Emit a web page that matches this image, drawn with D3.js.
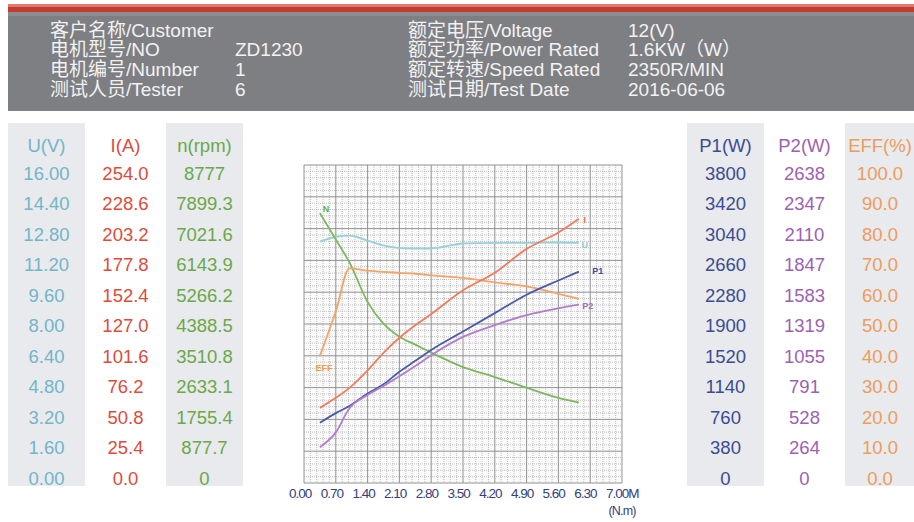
<!DOCTYPE html>
<html>
  <head>
    <meta charset="utf-8">
    <title>Motor test curve</title>
    <style>
      html, body { margin: 0; padding: 0; background: #fff; }
      svg { display: block; font-family: "Liberation Sans", Arial, "Noto Sans CJK SC", sans-serif; }
    </style>
  </head>
  <body>
    <svg class="chart"></svg>
    <script src="https://cdn.jsdelivr.net/npm/d3@7/dist/d3.min.js"></script>
    <script>

// header texts
var headLeftLabels = ["客户名称/Customer", "电机型号/NO", "电机编号/Number", "测试人员/Tester"]
var headLeftValues = ["", "ZD1230", "1", "6"]
var headRightLabels = ["额定电压/Voltage", "额定功率/Power Rated", "额定转速/Speed Rated", "测试日期/Test Date"]
var headRightValues = ["12(V)", "1.6KW（W）", "2350R/MIN", "2016-06-06"]

// table tick labels (top to bottom)
var uTicks = ["16.00", "14.40", "12.80", "11.20", "9.60", "8.00", "6.40", "4.80", "3.20", "1.60", "0.00"]
var iTicks = ["254.0", "228.6", "203.2", "177.8", "152.4", "127.0", "101.6", "76.2", "50.8", "25.4", "0.0"]
var nTicks = ["8777", "7899.3", "7021.6", "6143.9", "5266.2", "4388.5", "3510.8", "2633.1", "1755.4", "877.7", "0"]
var p1Ticks = ["3800", "3420", "3040", "2660", "2280", "1900", "1520", "1140", "760", "380", "0"]
var p2Ticks = ["2638", "2347", "2110", "1847", "1583", "1319", "1055", "791", "528", "264", "0"]
var effTicks = ["100.0", "90.0", "80.0", "70.0", "60.0", "50.0", "40.0", "30.0", "20.0", "10.0", "0.0"]

// torque axis
var torqueTicks = ["0.00", "0.70", "1.40", "2.10", "2.80", "3.50", "4.20", "4.90", "5.60", "6.30", "7.00M"]

// measured curves
var torque  = [0.35, 0.7, 1.0, 1.4, 1.75, 2.1, 2.45, 2.8, 3.5, 4.2, 4.9, 5.6, 6.05]
var voltage = [12.14, 12.39, 12.45, 12.2, 11.95, 11.82, 11.8, 11.8, 12.05, 12.08, 12.08, 12.1, 12.08]
var current = [60, 68, 76, 90, 104, 116, 126, 135, 154, 168, 187, 200, 211]
var speed   = [7450, 6720, 6090, 5000, 4400, 4040, 3820, 3600, 3200, 2925, 2630, 2350, 2220]
var eff     = [40, 54, 67.5, 66.8, 66.4, 66.1, 65.8, 65.3, 64.5, 63.1, 61.8, 59.5, 57.9]
var p1      = [720, 835, 920, 1070, 1180, 1330, 1460, 1590, 1810, 2030, 2250, 2420, 2525]
var p2      = [297, 420, 620, 730, 805, 885, 970, 1060, 1212, 1310, 1393, 1450, 1480]

var width = 914
var height = 522

var svg = d3.select(".chart")
    .attr("width", width)
    .attr("height", height)

// ---- header ----
svg.append("rect").attr("x", 8).attr("y", 4).attr("width", width - 8).attr("height", 8).attr("fill", "#c23a30")
svg.append("rect").attr("x", 8).attr("y", 4).attr("width", width - 8).attr("height", 3).attr("fill", "#e07a6c")
svg.append("rect").attr("x", 8).attr("y", 12).attr("width", width - 8).attr("height", 99).attr("fill", "#7e7f83")
svg.append("rect").attr("x", 8).attr("y", 12).attr("width", width - 8).attr("height", 4).attr("fill", "#8c8d91")

var headRow = d3.scalePoint().domain(d3.range(4)).range([30, 89])

function headCol(texts, x) {
    svg.append("g").selectAll("text")
        .data(texts)
        .enter().append("text")
        .attr("x", x)
        .attr("y", function(d, i) { return headRow(i) })
        .attr("dominant-baseline", "central")
        .attr("fill", "#f2f2f2")
        .attr("font-size", 19)
        .text(function(d) { return d })
}
headCol(headLeftLabels, 50)
headCol(headLeftValues, 235)
headCol(headRightLabels, 408)
headCol(headRightValues, 628)

// ---- side tables ----
var rowY = d3.scalePoint().domain(d3.range(11)).range([173, 478])

var columns = [
    {title: "U(V)",   ticks: uTicks,   color: "#72b6c8", x0: 8,   x1: 85,  bg: true},
    {title: "I(A)",   ticks: iTicks,   color: "#dc4c3a", x0: 85,  x1: 166, bg: false},
    {title: "n(rpm)", ticks: nTicks,   color: "#6aa84a", x0: 166, x1: 243, bg: true},
    {title: "P1(W)",  ticks: p1Ticks,  color: "#3c4c94", x0: 687, x1: 764, bg: true},
    {title: "P2(W)",  ticks: p2Ticks,  color: "#9c62b2", x0: 764, x1: 845, bg: false},
    {title: "EFF(%)", ticks: effTicks, color: "#ee9c5c", x0: 845, x1: 914, bg: true}
]

columns.forEach(function(c) {
    if (c.bg) {
        svg.append("rect")
            .attr("x", c.x0).attr("y", 123)
            .attr("width", c.x1 - c.x0).attr("height", 363)
            .attr("fill", "#e8eaed")
    }
    var cx = c.title == "EFF(%)" ? 880 : (c.x0 + c.x1) / 2
    svg.append("text")
        .attr("x", cx).attr("y", 145)
        .attr("text-anchor", "middle")
        .attr("dominant-baseline", "central")
        .attr("font-size", 18.5)
        .attr("fill", c.color)
        .text(c.title)
    svg.append("g").selectAll("text")
        .data(c.ticks)
        .enter().append("text")
        .attr("x", cx)
        .attr("y", function(d, i) { return rowY(i) })
        .attr("text-anchor", "middle")
        .attr("dominant-baseline", "central")
        .attr("font-size", 18.5)
        .attr("fill", c.color)
        .text(function(d) { return d })
})

// ---- plot ----
var x = d3.scaleLinear().domain([0, 7]).range([304, 622])
var gy = d3.scaleLinear().domain([0, 10]).range([483, 165])

var grid = svg.append("g")
grid.append("rect").attr("x", 304).attr("y", 165).attr("width", 318).attr("height", 318).attr("fill", "#fafafa")

// minor dotted lines
var minor = d3.range(0, 10.01, 0.2).filter(function(v) { return Math.abs(v - Math.round(v)) > 0.01 })
grid.selectAll(".vminor").data(minor).enter().append("line")
    .attr("x1", function(d) { return x(d * 0.7) }).attr("x2", function(d) { return x(d * 0.7) })
    .attr("y1", 165).attr("y2", 483)
    .attr("stroke", "#a8a8a8").attr("stroke-width", 0.7).attr("stroke-dasharray", "1,1")
grid.selectAll(".hminor").data(minor).enter().append("line")
    .attr("x1", 304).attr("x2", 622)
    .attr("y1", function(d) { return gy(d) }).attr("y2", function(d) { return gy(d) })
    .attr("stroke", "#a8a8a8").attr("stroke-width", 0.7).attr("stroke-dasharray", "1,1")

// major lines
grid.selectAll(".vmajor").data(d3.range(11)).enter().append("line")
    .attr("x1", function(d) { return x(d * 0.7) }).attr("x2", function(d) { return x(d * 0.7) })
    .attr("y1", 165).attr("y2", 483)
    .attr("stroke", "#888").attr("stroke-width", 0.9)
grid.selectAll(".hmajor").data(d3.range(11)).enter().append("line")
    .attr("x1", 304).attr("x2", 622)
    .attr("y1", function(d) { return gy(d) }).attr("y2", function(d) { return gy(d) })
    .attr("stroke", "#888").attr("stroke-width", 0.9)

// curves
var series = [
    {name: "U",   values: voltage, max: +uTicks[0],   color: "#95d2da", lbl: "#8ccbd6", dx: 6,  dy: 2,  anchor: "end"},
    {name: "N",   values: speed,   max: +nTicks[0],   color: "#7db860", lbl: "#6fb040", dx: 6,  dy: -4, anchor: "start"},
    {name: "EFF", values: eff,     max: +effTicks[0], color: "#f4a463", lbl: "#f29a40", dx: 4,  dy: 12, anchor: "start"},
    {name: "I",   values: current, max: +iTicks[0],   color: "#f07c5e", lbl: "#e8704c", dx: 6,  dy: 1,  anchor: "end"},
    {name: "P1",  values: p1,      max: +p1Ticks[0],  color: "#4a5ca8", lbl: "#3c4c9c", dx: 19, dy: -1, anchor: "end"},
    {name: "P2",  values: p2,      max: +p2Ticks[0],  color: "#b47ccc", lbl: "#a86cc0", dx: 9,  dy: 1,  anchor: "end"}
]

series.forEach(function(s) {
    var y = d3.scaleLinear().domain([0, s.max]).range([483, 165])
    var pts = torque.map(function(t, i) { return [t, s.values[i]] })
    var line = d3.line()
        .curve(d3.curveMonotoneX)
        .x(function(d) { return x(d[0]) })
        .y(function(d) { return y(d[1]) })
    svg.append("path")
        .datum(pts)
        .attr("d", line)
        .attr("fill", "none")
        .attr("stroke", s.color)
        .attr("stroke-width", 1.8)
        .attr("stroke-linejoin", "round")
    var p = s.anchor == "start" ? pts[0] : pts[pts.length - 1]
    svg.append("text")
        .attr("x", x(p[0]) + s.dx)
        .attr("y", y(p[1]) + s.dy)
        .attr("text-anchor", "middle")
        .attr("dominant-baseline", "central")
        .attr("font-size", 9)
        .attr("font-weight", "bold")
        .attr("fill", s.lbl)
        .text(s.name)
})

// torque labels
var tx = d3.scalePoint().domain(torqueTicks).range([289, 606])
svg.append("g").selectAll("text")
    .data(torqueTicks)
    .enter().append("text")
    .attr("x", function(d) { return tx(d) })
    .attr("y", 493)
    .attr("dominant-baseline", "central")
    .attr("font-size", 13.5)
    .attr("letter-spacing", -1)
    .attr("fill", "#34407a")
    .text(function(d) { return d })
svg.append("text")
    .attr("x", 622).attr("y", 511)
    .attr("text-anchor", "middle")
    .attr("dominant-baseline", "central")
    .attr("font-size", 12.5)
    .attr("letter-spacing", -0.8)
    .attr("fill", "#34407a")
    .text("(N.m)")

    </script>
  </body>
</html>
